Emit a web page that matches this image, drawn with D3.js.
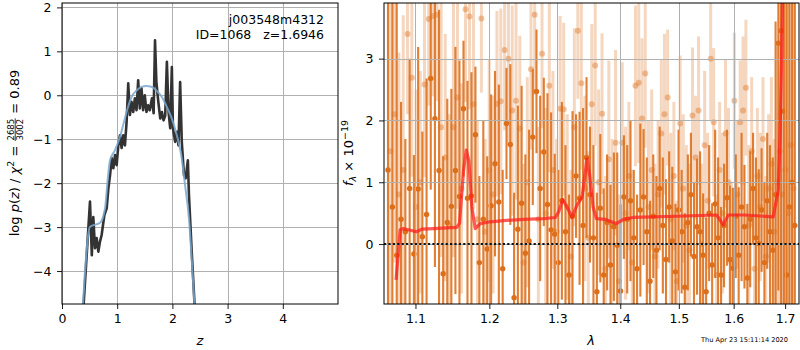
<html>
<head>
<meta charset="utf-8">
<script src="https://cdn.jsdelivr.net/npm/d3@7"></script>
</head>

<style>
body { margin:0; background:#fff; }
svg text { font-family: "DejaVu Sans", sans-serif; fill:#000; }
</style>

<body>
<script>

// ---- p(z) panel data ----
var zTicks = [0, 1, 2, 3, 4];
var lnpTicks = [-4, -3, -2, -1, 0, 1, 2];

// posterior log p(z), dark jagged curve
var pzZ = [0.37, 0.507, 0.54, 0.567, 0.598, 0.628, 0.658, 0.688, 0.718, 0.767,
  0.81, 0.84, 0.87, 0.90, 0.93, 0.96, 0.99, 1.02, 1.05, 1.08,
  1.11, 1.14, 1.17, 1.20, 1.23, 1.26, 1.29, 1.32, 1.35, 1.38,
  1.41, 1.44, 1.47, 1.50, 1.53, 1.56, 1.59, 1.63, 1.66, 1.685,
  1.71, 1.745, 1.78, 1.81, 1.84, 1.87, 1.90, 1.93, 1.96, 1.99,
  2.01, 2.05, 2.08, 2.11, 2.14, 2.17, 2.21, 2.24, 2.28, 2.30,
  2.35, 2.40, 2.45];
var pzLog = [-5.2, -2.42, -3.64, -2.77, -3.48, -3.25, -3.56, -3.33, -3.18, -2.73,
  -2.57, -2.12, -1.82, -1.43, -1.66, -1.36, -1.59, -1.14, -0.91, -1.2,
  -0.91, -1.14, -0.61, 0.27, -0.45, -0.15, -0.38, -0.07, -0.34, 0.34,
  -0.30, 0.16, -0.34, 0.0, -0.38, -0.23, -0.34, -0.07, -0.41, 1.25,
  0.30, -0.15, -0.53, -0.38, -0.57, -0.46, 0.76, -0.38, -0.75, 0.64,
  -0.75, -1.06, -0.83, -1.14, 0.30, -1.06, -1.82, -1.89, -1.48, -2.27,
  -3.56, -4.73, -5.6];

// smooth blue curve
var priorZ = [0.36, 0.507, 0.69, 0.78, 0.83, 0.87, 0.96, 1.05, 1.12, 1.17,
  1.26, 1.35, 1.44, 1.53, 1.63, 1.71, 1.81, 1.90, 1.99, 2.08,
  2.16, 2.23, 2.30, 2.36, 2.43];
var priorLog = [-5.2, -2.99, -2.90, -2.57, -1.89, -1.48, -1.25, -0.95, -0.62, -0.38,
  -0.04, 0.11, 0.19, 0.21, 0.19, 0.11, -0.04, -0.27, -0.53, -0.91,
  -1.36, -2.05, -2.8, -3.93, -5.4];

var objName = "j003548m4312";
var objId = 1068;
var objZ = 1.6946;
var chiNum = 2685, chiDen = 3002, chiRed = 0.89;

// ---- spectrum panel data ----
var lamTicks = [1.1, 1.2, 1.3, 1.4, 1.5, 1.6, 1.7];
var fluxTicks = [0, 1, 2, 3];

var specWave = [1.0650, 1.0705, 1.0760, 1.0815, 1.0870, 1.0925, 1.0980, 1.1035, 1.1090, 1.1145,
  1.1200, 1.1255, 1.1310, 1.1365, 1.1420, 1.1475, 1.1530, 1.1585, 1.1640, 1.1695,
  1.1750, 1.1805, 1.1860, 1.1915, 1.1970, 1.2025, 1.2080, 1.2135, 1.2190, 1.2245,
  1.2300, 1.2355, 1.2410, 1.2465, 1.2520, 1.2575, 1.2630, 1.2685, 1.2740, 1.2795,
  1.2850, 1.2905, 1.2960, 1.3015, 1.3070, 1.3125, 1.3180, 1.3235, 1.3290, 1.3345,
  1.3400, 1.3455, 1.3510, 1.3565, 1.3620, 1.3675, 1.3730, 1.3785, 1.3840, 1.3895,
  1.3950, 1.4005, 1.4060, 1.4115, 1.4170, 1.4225, 1.4280, 1.4335, 1.4390, 1.4445,
  1.4500, 1.4555, 1.4610, 1.4665, 1.4720, 1.4775, 1.4830, 1.4885, 1.4940, 1.4995,
  1.5050, 1.5105, 1.5160, 1.5215, 1.5270, 1.5325, 1.5380, 1.5435, 1.5490, 1.5545,
  1.5600, 1.5655, 1.5710, 1.5765, 1.5820, 1.5875, 1.5930, 1.5985, 1.6040, 1.6095,
  1.6150, 1.6205, 1.6260, 1.6315, 1.6370, 1.6425, 1.6480, 1.6535, 1.6590, 1.6645,
  1.6700, 1.6755, 1.6810, 1.6865, 1.6920, 1.6975, 1.7030, 1.7085, 1.7140, 1.7195];
var specFlux = [1.2, 0.6, -0.18, 0.4, 0.2, 0.9, -0.16, 0.89, 0.12, 0.48,
  2.68, 2.03, 1.19, -0.48, 0.35, 0.61, 1.19, 0.77, 2.19, 0.74,
  0.78, 1.77, -0.3, 0.4, -0.08, 0.62, 1.30, 0.68, -0.40, 1.95,
  1.61, -0.87, 0.24, 0.66, -0.15, 0.05, 1.73, 2.47, 0.9, 1.49,
  0.64, 0.23, 0.16, -0.3, 0.7, 0.2, -0.5, 0.45, 1.1, 0.74,
  0.3, 1.4, 0.8, 0.1, -0.77, 0.58, -0.5, 0.35, -0.34, 0.28,
  -0.02, -0.76, 0.76, 0.4, 0.70, 0.1, -0.4, 0.55, 0.76, 0.2,
  -0.6, 0.45, -0.10, 0.90, 0.3, -0.25, 0.6, 0.05, -0.45, 0.55,
  0.2, -0.7, 0.35, 0.8, -0.2, 0.28, 0.20, -0.18, -0.77, 0.5,
  -0.34, 0.65, 0.1, -0.5, 0.3, 0.75, -0.25, -0.39, 0.45, -0.18,
  0.6, 0.28, -0.55, 0.4, 0.90, 0.1, 0.01, 0.55, -0.3, 0.7,
  0.2, -0.1, 0.8, 3.25, 3.45, 2.15, -0.5, 0.6, 1.0, 0.3];
var specErr = [5.0, 4.5, 4.6, 1.9, 1.5, 2.1, 1.6, 2.3, 1.7, 2.2,
  1.8, 2.4, 2.6, 1.9, 2.0, 1.9, 2.0, 2.2, 1.1, 1.9,
  2.0, 1.1, 1.4, 1.6, 1.5, 1.8, 1.5, 1.9, 1.6, 0.9,
  1.3, 1.7, 2.0, 1.9, 1.6, 1.8, 1.1, 1.0, 1.5, 1.2,
  1.8, 1.9, 1.3, 1.5, 1.6, 1.4, 1.3, 1.7, 1.0, 1.4,
  1.9, 1.3, 1.1, 1.5, 1.6, 1.2, 1.4, 1.1, 1.3, 1.2,
  1.5, 1.4, 1.0, 1.2, 1.3, 1.1, 1.2, 1.4, 1.1, 1.2,
  1.3, 1.0, 1.2, 1.0, 1.1, 1.3, 0.9, 1.2, 1.1, 1.3,
  1.0, 1.2, 1.1, 1.0, 1.2, 1.1, 1.3, 1.0, 1.2, 1.1,
  1.0, 1.2, 1.3, 1.1, 1.0, 1.1, 1.2, 1.3, 1.0, 1.1,
  1.2, 1.0, 1.2, 1.1, 0.9, 1.3, 1.2, 1.0, 1.3, 1.1,
  1.4, 1.5, 2.8, 4.0, 4.5, 4.0, 5.0, 5.0, 5.0, 5.0];

// second, fainter set of spectra
var altWave = [1.0678, 1.0733, 1.0788, 1.0843, 1.0898, 1.0953, 1.1008, 1.1063, 1.1118, 1.1173,
  1.1228, 1.1283, 1.1338, 1.1393, 1.1448, 1.1503, 1.1558, 1.1613, 1.1668, 1.1723,
  1.1778, 1.1833, 1.1888, 1.1943, 1.1998, 1.2053, 1.2108, 1.2163, 1.2218, 1.2273,
  1.2328, 1.2383, 1.2438, 1.2493, 1.2548, 1.2603, 1.2658, 1.2713, 1.2768, 1.2823,
  1.2878, 1.2933, 1.2988, 1.3043, 1.3098, 1.3153, 1.3208, 1.3263, 1.3318, 1.3373,
  1.3428, 1.3483, 1.3538, 1.3593, 1.3648, 1.3703, 1.3758, 1.3813, 1.3868, 1.3923,
  1.3978, 1.4033, 1.4088, 1.4143, 1.4198, 1.4253, 1.4308, 1.4363, 1.4418, 1.4473,
  1.4528, 1.4583, 1.4638, 1.4693, 1.4748, 1.4803, 1.4858, 1.4913, 1.4968, 1.5023,
  1.5078, 1.5133, 1.5188, 1.5243, 1.5298, 1.5353, 1.5408, 1.5463, 1.5518, 1.5573,
  1.5628, 1.5683, 1.5738, 1.5793, 1.5848, 1.5903, 1.5958, 1.6013, 1.6068, 1.6123,
  1.6178, 1.6233, 1.6288, 1.6343, 1.6398, 1.6453, 1.6508, 1.6563, 1.6618, 1.6673,
  1.6728, 1.6783, 1.6838, 1.6893, 1.6948, 1.7003, 1.7058, 1.7113, 1.7168];
var altFlux = [1.5, 2.1, 0.8, 1.2, 3.4, 2.69, 0.6, 1.0, 2.58, 3.64,
  3.69, 3.71, 1.89, 1.40, 0.3, 1.89, 2.37, 0.9, 3.80, 3.68,
  2.26, 0.4, 3.65, 0.2, 1.19, 0.8, 2.27, 2.31, 3.14, 3.0,
  2.16, 2.32, 1.87, -0.3, 1.0, 2.83, 3.71, 0.4, 3.08, 0.5,
  2.56, 1.2, 0.2, 2.19, 2.18, 0.6, -0.2, 1.89, 3.45, 2.6,
  0.9, 0.1, 2.26, 2.89, 1.0, 2.11, -0.4, 1.37, 0.3, 1.64,
  -0.6, 1.64, 0.5, 1.1, -0.3, 2.56, 2.61, 2.03, 2.76, 0.6,
  1.2, -0.2, 0.8, 1.79, 2.10, 2.37, 0.4, 1.1, -0.6, 1.95,
  0.9, 0.3, -0.1, 2.08, 1.4, 2.16, 0.0, 1.6, 0.7, 3.0,
  1.97, -0.5, 1.2, 0.5, 1.79, 1.0, -0.3, 2.32, 0.8, 1.97,
  2.16, 2.53, 0.3, 1.5, -0.4, 1.1, 0.6, 1.7, -0.2, 0.9,
  1.3, 0.2, 1.0, 1.5, 0.8, 1.2, 0.5, 1.6, 0.9];
var altErr = [3.5, 2.4, 2.3, 2.5, 1.3, 1.6, 1.9, 1.8, 1.5, 1.4,
  1.3, 1.4, 2.1, 2.0, 1.8, 2.1, 1.8, 1.7, 1.5, 1.5,
  1.7, 1.6, 1.2, 1.5, 1.8, 1.6, 1.5, 1.5, 1.3, 1.4,
  1.7, 1.6, 1.5, 1.6, 1.7, 1.3, 1.3, 1.5, 1.2, 1.7,
  1.4, 1.6, 1.5, 1.5, 1.4, 1.5, 1.4, 1.6, 1.1, 1.4,
  1.5, 1.4, 1.3, 1.3, 1.5, 1.3, 1.5, 1.6, 1.4, 1.5,
  1.4, 1.3, 1.4, 1.2, 1.5, 1.3, 1.3, 1.3, 1.2, 1.4,
  1.3, 1.5, 1.2, 1.2, 1.3, 1.1, 1.4, 1.2, 1.3, 1.1,
  1.2, 1.3, 1.4, 1.1, 1.0, 1.2, 1.3, 1.2, 1.1, 1.0,
  1.2, 1.3, 1.1, 1.3, 1.2, 1.2, 1.3, 1.1, 1.2, 1.0,
  1.2, 1.1, 1.3, 1.2, 1.3, 1.1, 1.2, 1.0, 1.3, 1.2,
  1.4, 1.5, 2.2, 3.0, 3.5, 3.5, 3.8, 3.5, 3.6];

// best-fit model
var modelWave = [1.0752, 1.0803, 1.0845, 1.0974, 1.1017, 1.1082, 1.1236, 1.1549, 1.1586,
  1.1641, 1.1678, 1.1714, 1.1755, 1.1802, 1.1872, 1.2013, 1.2203, 1.2494, 1.2792,
  1.2970, 1.3020, 1.3082, 1.3149, 1.3227, 1.3305, 1.3384, 1.3463, 1.3506, 1.3560,
  1.3613, 1.3750, 1.3910, 1.3938, 1.4050, 1.4214, 1.4959, 1.5683, 1.5805, 1.5899,
  1.6200, 1.6763, 1.6863, 1.6896, 1.6930, 1.6960];
var modelFlux = [-0.58, 0.23, 0.25, 0.21, 0.20, 0.24, 0.25, 0.27, 0.34,
  1.19, 1.52, 1.35, 0.60, 0.25, 0.33, 0.36, 0.38, 0.40, 0.41,
  0.43, 0.52, 0.72, 0.60, 0.43, 0.63, 0.76, 1.38, 1.10, 0.60,
  0.41, 0.40, 0.34, 0.33, 0.40, 0.43, 0.45, 0.47, 0.31, 0.47,
  0.47, 0.44, 0.87, 1.70, 3.0, 4.6];

var stamp = "Thu Apr 23 15:11:14 2020";

// ---------------------------------------------------------------
var width = 800;
var height = 350;
var fs = 12.5;

var svg = d3.select("body").append("svg")
    .attr("width", width)
    .attr("height", height);

var defs = svg.append("defs");

var tickLen = 5, tickPad = 5.5;

function styleAxis(g) {
  g.selectAll("text").attr("font-size", fs).attr("font-family", "DejaVu Sans");
  g.selectAll("line").attr("stroke", "#000").attr("stroke-width", 0.9);
  g.select(".domain").remove();
}

function frame(p, x0, x1, y0, y1) {
  p.append("rect")
    .attr("x", x0).attr("y", y0)
    .attr("width", x1 - x0).attr("height", y1 - y0)
    .attr("fill", "none").attr("stroke", "#000").attr("stroke-width", 1);
}

function grid(p, xs, ys, xt, yt, x0, x1, y0, y1) {
  var gg = p.append("g").attr("stroke", "#b0b0b0").attr("stroke-width", 1);
  gg.selectAll(".gx").data(xt).enter().append("line")
    .attr("x1", function(d){ return Math.round(xs(d)) + 0.5; })
    .attr("x2", function(d){ return Math.round(xs(d)) + 0.5; })
    .attr("y1", y0).attr("y2", y1);
  gg.selectAll(".gy").data(yt).enter().append("line")
    .attr("y1", function(d){ return Math.round(ys(d)) + 0.5; })
    .attr("y2", function(d){ return Math.round(ys(d)) + 0.5; })
    .attr("x1", x0).attr("x2", x1);
}

// ================= left: p(z) =================
var L = {x0: 62, x1: 338, y0: 3, y1: 304};
var xz = d3.scaleLinear().domain([0, 5]).range([L.x0, L.x1]);
var yp = d3.scaleLinear().domain([-4.75, 2.1]).range([L.y1, L.y0]);

defs.append("clipPath").attr("id", "clipL").append("rect")
  .attr("x", L.x0).attr("y", L.y0).attr("width", L.x1 - L.x0).attr("height", L.y1 - L.y0);

grid(svg, xz, yp, zTicks, lnpTicks, L.x0, L.x1, L.y0, L.y1);

var pzData = pzZ.map(function(z, i){ return [z, pzLog[i]]; });
var priorData = priorZ.map(function(z, i){ return [z, priorLog[i]]; });

var left = svg.append("g").attr("clip-path", "url(#clipL)");

left.append("path")
  .datum(pzData)
  .attr("fill", "none")
  .attr("stroke", "#333")
  .attr("stroke-width", 2.6)
  .attr("stroke-linejoin", "round")
  .attr("d", d3.line().x(function(d){ return xz(d[0]); }).y(function(d){ return yp(d[1]); }));

left.append("path")
  .datum(priorData)
  .attr("fill", "none")
  .attr("stroke", "#7aa8cf")
  .attr("stroke-width", 2)
  .attr("opacity", 0.85)
  .attr("d", d3.line().curve(d3.curveMonotoneX)
      .x(function(d){ return xz(d[0]); }).y(function(d){ return yp(d[1]); }));

svg.append("g")
  .attr("transform", "translate(0," + L.y1 + ")")
  .call(d3.axisBottom(xz).tickValues(zTicks).tickSize(tickLen).tickPadding(tickPad).tickFormat(d3.format("d")))
  .call(styleAxis);

svg.append("g")
  .attr("transform", "translate(" + L.x0 + ",0)")
  .call(d3.axisLeft(yp).tickValues(lnpTicks).tickSize(tickLen).tickPadding(tickPad).tickFormat(d3.format("d")))
  .call(styleAxis);

frame(svg, L.x0, L.x1, L.y0, L.y1);

svg.append("text")
  .attr("x", 324).attr("y", 24)
  .attr("text-anchor", "end")
  .attr("font-size", fs)
  .text(objName);
svg.append("text")
  .attr("x", 324).attr("y", 39)
  .attr("text-anchor", "end")
  .attr("font-size", fs)
  .text("ID=" + objId + "\u00a0\u00a0\u00a0z=" + objZ.toFixed(4));

svg.append("text")
  .attr("x", xz(2.5)).attr("y", 345)
  .attr("text-anchor", "middle")
  .attr("font-size", fs + 0.5)
  .attr("font-style", "italic")
  .text("z");

// y label with a small stacked fraction
var ylab = svg.append("g").attr("transform", "translate(19,153) rotate(-90)");
var yin = ylab.append("g");
var t1 = yin.append("text").attr("font-size", fs + 0.5).style("white-space", "pre");
t1.append("tspan").text("log ");
t1.append("tspan").attr("font-style", "italic").text("p");
t1.append("tspan").text("(");
t1.append("tspan").attr("font-style", "italic").text("z");
t1.append("tspan").text(") / ");
t1.append("tspan").attr("font-style", "italic").text("χ");
t1.append("tspan").attr("font-size", 9.5).attr("dy", -5.5).text("2");
t1.append("tspan").attr("dy", 5.5).text(" = ");
var w1 = t1.node().getComputedTextLength();

var fnum = yin.append("text").attr("font-size", 8.5).attr("text-anchor", "middle").attr("y", -5.5).text(chiNum);
var fden = yin.append("text").attr("font-size", 8.5).attr("text-anchor", "middle").attr("y", 4).text(chiDen);
var fw = Math.max(fnum.node().getComputedTextLength(), fden.node().getComputedTextLength()) + 2;
fnum.attr("x", w1 + fw / 2);
fden.attr("x", w1 + fw / 2);
yin.append("line")
  .attr("x1", w1 + 0.5).attr("x2", w1 + fw - 0.5)
  .attr("y1", -3.8).attr("y2", -3.8)
  .attr("stroke", "#000").attr("stroke-width", 0.8);
var t2 = yin.append("text").attr("font-size", fs + 0.5).style("white-space", "pre")
  .attr("x", w1 + fw).text(" = " + chiRed.toFixed(2));
var total = w1 + fw + t2.node().getComputedTextLength();
yin.attr("transform", "translate(" + (-total / 2) + ",0)");

// ================= right: spectrum =================
var R = {x0: 384, x1: 799, y0: 3, y1: 304};
var xl = d3.scaleLog().domain([1.06, 1.728]).range([R.x0, R.x1]);
var yf = d3.scaleLinear().domain([-0.97, 3.9]).range([R.y1, R.y0]);

defs.append("clipPath").attr("id", "clipR").append("rect")
  .attr("x", R.x0).attr("y", R.y0).attr("width", R.x1 - R.x0).attr("height", R.y1 - R.y0);

var right = svg.append("g").attr("clip-path", "url(#clipR)");
var orange = "#dd6e1a";

var alt = altWave.map(function(w, i){ return {w: w, f: altFlux[i], e: altErr[i]}; });
var spec = specWave.map(function(w, i){ return {w: w, f: specFlux[i], e: specErr[i]}; });

function errorbars(g, data, op, dotOp, bw, r) {
  g.selectAll(null).data(data).enter().append("line")
    .attr("x1", function(d){ return xl(d.w); })
    .attr("x2", function(d){ return xl(d.w); })
    .attr("y1", function(d){ return yf(d.f - d.e); })
    .attr("y2", function(d){ return yf(d.f + d.e); })
    .attr("stroke", orange)
    .attr("stroke-width", bw)
    .attr("opacity", op);
  g.selectAll(null).data(data).enter().append("circle")
    .attr("cx", function(d){ return xl(d.w); })
    .attr("cy", function(d){ return yf(d.f); })
    .attr("r", r)
    .attr("fill", orange)
    .attr("opacity", dotOp);
}

errorbars(right.append("g"), alt, 0.27, 0.4, 3, 3);
errorbars(right.append("g"), spec, 0.88, 1, 2.1, 2.7);

grid(svg, xl, yf, lamTicks, fluxTicks, R.x0, R.x1, R.y0, R.y1);

var right2 = svg.append("g").attr("clip-path", "url(#clipR)");
right2.append("path")
  .datum(modelWave.map(function(w, i){ return [w, modelFlux[i]]; }))
  .attr("fill", "none")
  .attr("stroke", "#ff1a1a")
  .attr("stroke-width", 3.2)
  .attr("opacity", 0.72)
  .attr("stroke-linejoin", "round")
  .attr("d", d3.line().x(function(d){ return xl(d[0]); }).y(function(d){ return yf(d[1]); }));

right2.append("line")
  .attr("x1", R.x0).attr("x2", R.x1)
  .attr("y1", yf(0)).attr("y2", yf(0))
  .attr("stroke", "#111")
  .attr("stroke-width", 2)
  .attr("stroke-dasharray", "2.2,2.2");

svg.append("g")
  .attr("transform", "translate(0," + R.y1 + ")")
  .call(d3.axisBottom(xl).tickValues(lamTicks).tickSize(tickLen).tickPadding(tickPad).tickFormat(d3.format(".1f")))
  .call(styleAxis);

svg.append("g")
  .attr("transform", "translate(" + R.x0 + ",0)")
  .call(d3.axisLeft(yf).tickValues(fluxTicks).tickSize(tickLen).tickPadding(tickPad).tickFormat(d3.format("d")))
  .call(styleAxis);

frame(svg, R.x0, R.x1, R.y0, R.y1);

svg.append("text")
  .attr("x", 591).attr("y", 345)
  .attr("text-anchor", "middle")
  .attr("font-size", fs + 0.5)
  .attr("font-style", "italic")
  .text("λ");

var rlab = svg.append("text")
  .attr("transform", "translate(353,153) rotate(-90)")
  .attr("text-anchor", "middle")
  .attr("font-size", fs + 0.5)
  .style("white-space", "pre");
rlab.append("tspan").attr("font-style", "italic").text("f");
rlab.append("tspan").attr("font-style", "italic").attr("font-size", 9.5).attr("dy", 3).text("λ");
rlab.append("tspan").attr("dy", -3).text(" × 10");
rlab.append("tspan").attr("font-size", 9.5).attr("dy", -5.5).text("−19");

svg.append("text")
  .attr("x", 788).attr("y", 342)
  .attr("text-anchor", "end")
  .attr("font-size", 6.6)
  .text(stamp);

</script>
</body>
</html>
